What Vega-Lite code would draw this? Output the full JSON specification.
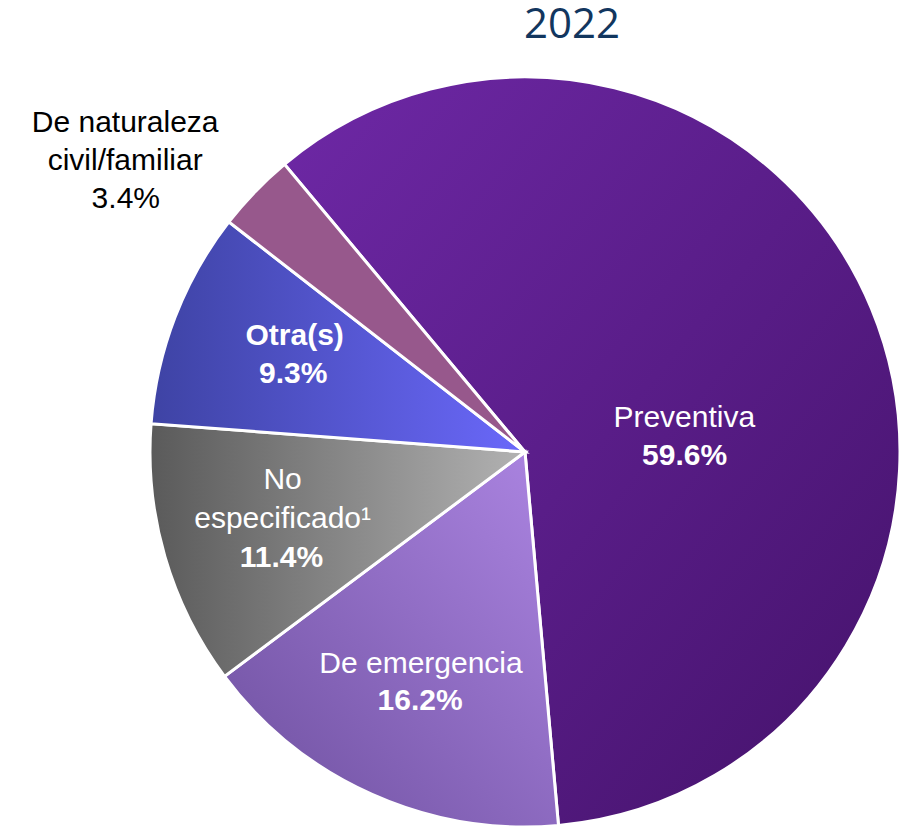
{
  "$schema": "https://vega.github.io/schema/vega-lite/v6.json",
  "width": 750,
  "height": 750,
  "autosize": {"type": "none"},
  "padding": {"left": 150, "top": 77, "right": 0, "bottom": 0},
  "background": "white",
  "config": {"view": {"stroke": null}},
  "title": {
    "text": "2022",
    "font": "Open Sans",
    "fontSize": 42,
    "fontWeight": "normal",
    "color": "#12365e",
    "anchor": "middle",
    "frame": "group",
    "dx": 47,
    "offset": 24
  },
  "data": {
    "values": [
      {"cat": "Preventiva", "name": "Preventiva", "value": 0.596, "rank": 1},
      {"cat": "De emergencia", "name": "De emergencia", "value": 0.162, "rank": 2},
      {"cat": "No especificado", "name": "No\nespecificado¹", "value": 0.114, "rank": 3},
      {"cat": "Otra(s)", "name": "Otra(s)", "value": 0.093, "rank": 4},
      {"cat": "De naturaleza civil/familiar", "name": "De naturaleza\ncivil/familiar", "value": 0.034, "rank": 5}
    ]
  },
  "encoding": {
    "theta": {
      "field": "value",
      "type": "quantitative",
      "stack": true,
      "scale": {"domain": [0, 0.999], "range": [-0.6964, 5.5868]}
    },
    "order": {"field": "rank", "type": "quantitative"}
  },
  "layer": [
    {
      "mark": {"type": "arc", "stroke": "white", "strokeWidth": 3},
      "encoding": {
        "fill": {
          "condition": [
            {"test": "datum.cat === 'Preventiva'", "value": {"gradient": "linear", "x1": 0, "y1": 0, "x2": 1, "y2": 1, "stops": [{"offset": 0, "color": "#6e28a6"}, {"offset": 1, "color": "#44126a"}]}},
            {"test": "datum.cat === 'De emergencia'", "value": {"gradient": "linear", "x1": 0, "y1": 1, "x2": 1, "y2": 0, "stops": [{"offset": 0, "color": "#6d4f9e"}, {"offset": 1, "color": "#ac85e2"}]}},
            {"test": "datum.cat === 'No especificado'", "value": {"gradient": "linear", "x1": 0, "y1": 0, "x2": 1, "y2": 0, "stops": [{"offset": 0, "color": "#5a5a5a"}, {"offset": 1, "color": "#b2b2b2"}]}},
            {"test": "datum.cat === 'Otra(s)'", "value": {"gradient": "linear", "x1": 0, "y1": 0, "x2": 1, "y2": 0, "stops": [{"offset": 0, "color": "#3e43a4"}, {"offset": 1, "color": "#6a68fa"}]}}
          ],
          "value": "#97588c"
        }
      }
    },
    {
      "mark": {"type": "text", "radius": 162.9, "thetaOffset": 0.182, "font": "Liberation Sans", "fontSize": 30, "color": "white"},
      "encoding": {"text": {"condition": {"test": "datum.cat === 'Preventiva'", "field": "name", "type": "nominal"}, "value": ""}}
    },
    {
      "mark": {"type": "text", "radius": 159.6, "thetaOffset": 0.418, "font": "Liberation Sans", "fontSize": 30, "fontWeight": "bold", "color": "white"},
      "encoding": {"text": {"condition": {"test": "datum.cat === 'Preventiva'", "field": "value", "type": "quantitative", "format": ".1%"}, "value": ""}}
    },
    {
      "mark": {"type": "text", "radius": 235.7, "thetaOffset": 0.037, "font": "Liberation Sans", "fontSize": 30, "color": "white"},
      "encoding": {"text": {"condition": {"test": "datum.cat === 'De emergencia'", "field": "name", "type": "nominal"}, "value": ""}}
    },
    {
      "mark": {"type": "text", "radius": 270.6, "thetaOffset": -0.022, "font": "Liberation Sans", "fontSize": 30, "fontWeight": "bold", "color": "white"},
      "encoding": {"text": {"condition": {"test": "datum.cat === 'De emergencia'", "field": "value", "type": "quantitative", "format": ".1%"}, "value": ""}}
    },
    {
      "mark": {"type": "text", "radius": 244, "thetaOffset": 0.168, "font": "Liberation Sans", "fontSize": 30, "color": "white", "lineBreak": "\n", "lineHeight": 39},
      "encoding": {"text": {"condition": {"test": "datum.cat === 'No especificado'", "field": "name", "type": "nominal"}, "value": ""}}
    },
    {
      "mark": {"type": "text", "radius": 265.6, "thetaOffset": -0.127, "font": "Liberation Sans", "fontSize": 30, "fontWeight": "bold", "color": "white"},
      "encoding": {"text": {"condition": {"test": "datum.cat === 'No especificado'", "field": "value", "type": "quantitative", "format": ".1%"}, "value": ""}}
    },
    {
      "mark": {"type": "text", "radius": 258, "thetaOffset": 0.099, "font": "Liberation Sans", "fontSize": 30, "fontWeight": "bold", "color": "white"},
      "encoding": {"text": {"condition": {"test": "datum.cat === 'Otra(s)'", "field": "name", "type": "nominal"}, "value": ""}}
    },
    {
      "mark": {"type": "text", "radius": 244.6, "thetaOffset": -0.042, "font": "Liberation Sans", "fontSize": 30, "fontWeight": "bold", "color": "white"},
      "encoding": {"text": {"condition": {"test": "datum.cat === 'Otra(s)'", "field": "value", "type": "quantitative", "format": ".1%"}, "value": ""}}
    },
    {
      "mark": {"type": "text", "radius": 517.8, "thetaOffset": -0.079, "font": "Liberation Sans", "fontSize": 30, "color": "black", "lineBreak": "\n", "lineHeight": 38},
      "encoding": {"text": {"condition": {"test": "datum.cat === 'De naturaleza civil/familiar'", "field": "name", "type": "nominal"}, "value": ""}}
    },
    {
      "mark": {"type": "text", "radius": 472.8, "thetaOffset": -0.202, "font": "Liberation Sans", "fontSize": 30, "color": "black"},
      "encoding": {"text": {"condition": {"test": "datum.cat === 'De naturaleza civil/familiar'", "field": "value", "type": "quantitative", "format": ".1%"}, "value": ""}}
    }
  ]
}
